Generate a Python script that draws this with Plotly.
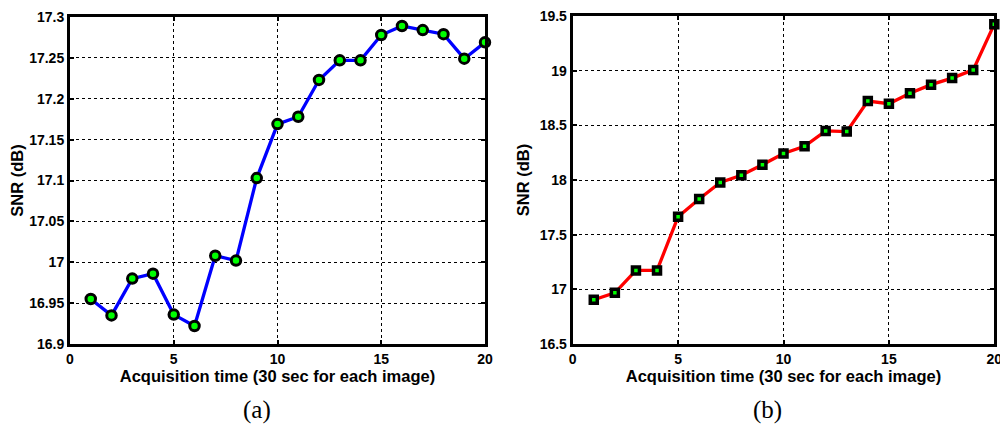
import plotly.graph_objects as go

# Data
time_a = list(range(1, 21))
snr_a = [16.955, 16.935, 16.980, 16.986, 16.936, 16.922, 17.008, 17.002, 17.103, 17.169,
         17.178, 17.223, 17.247, 17.247, 17.278, 17.289, 17.284, 17.279, 17.249, 17.269]
time_b = list(range(1, 21))
snr_b = [16.905, 16.968, 17.173, 17.173, 17.665, 17.827, 17.977, 18.043, 18.140, 18.242,
         18.308, 18.449, 18.443, 18.722, 18.698, 18.794, 18.872, 18.932, 19.007, 19.425]

x_ticks = [0, 5, 10, 15, 20]
y_ticks_a = [16.9, 16.95, 17.0, 17.05, 17.1, 17.15, 17.2, 17.25, 17.3]
y_ticks_a_text = ["16.9", "16.95", "17", "17.05", "17.1", "17.15", "17.2", "17.25", "17.3"]
y_ticks_b = [16.5, 17.0, 17.5, 18.0, 18.5, 19.0, 19.5]
y_ticks_b_text = ["16.5", "17", "17.5", "18", "18.5", "19", "19.5"]

x_title = "Acquisition time (30 sec for each image)"
y_title = "SNR (dB)"
captions = ["(a)", "(b)"]

# page body has an 8px margin; size the figure so it fits the 1008x428 window
OFF = 8
W, H = 1008 - OFF, 428 - OFF
FONT = "Liberation Sans"


def px_x(p):
    return (p - OFF) / W


def px_y(p):
    return 1 - (p - OFF) / H


fig = go.Figure()
fig.add_trace(go.Scatter(
    x=time_a, y=snr_a, mode="lines+markers", xaxis="x", yaxis="y",
    line=dict(color="#0000ff", width=3.3),
    marker=dict(symbol="circle", size=9.5, color="#00ff00", line=dict(color="black", width=3)),
    showlegend=False, cliponaxis=False))
fig.add_trace(go.Scatter(
    x=time_b, y=snr_b, mode="lines+markers", xaxis="x2", yaxis="y2",
    line=dict(color="#ff0000", width=3.3),
    marker=dict(symbol="square", size=7, color="#00ff00", line=dict(color="black", width=3.5)),
    showlegend=False, cliponaxis=False))

axis_common = dict(
    showline=True, linecolor="black", linewidth=3, mirror="ticks",
    ticks="inside", ticklen=4, tickwidth=1.5, tickcolor="black",
    showgrid=True, gridcolor="black", gridwidth=1, griddash="dot",
    zeroline=False, automargin=False, ticklabeloverflow="allow",
    tickfont=dict(family=FONT, size=14, color="black", weight="bold"),
)
title_font = dict(family=FONT, size=16.5, color="black", weight="bold")

fig.update_layout(
    width=W, height=H,
    margin=dict(l=0, r=0, t=0, b=0),
    paper_bgcolor="white", plot_bgcolor="white",
    xaxis=dict(domain=[px_x(70), px_x(485)], anchor="y", range=[0, 20],
               tickvals=x_ticks,
               title=dict(text=x_title, standoff=4, font=title_font),
               **axis_common),
    yaxis=dict(domain=[px_y(344), px_y(17)], anchor="x", range=[16.9, 17.3],
               tickvals=y_ticks_a, ticktext=y_ticks_a_text,
               title=dict(text=y_title, standoff=6, font=title_font),
               **axis_common),
    xaxis2=dict(domain=[px_x(572.7), px_x(994.3)], anchor="y2", range=[0, 20],
                tickvals=x_ticks,
                title=dict(text=x_title, standoff=4, font=title_font),
                **axis_common),
    yaxis2=dict(domain=[px_y(344), px_y(16)], anchor="x2", range=[16.5, 19.5],
                tickvals=y_ticks_b, ticktext=y_ticks_b_text,
                title=dict(text=y_title, standoff=6, font=title_font),
                **axis_common),
    annotations=[
        dict(text=captions[0], x=px_x(257), y=px_y(410), xref="paper", yref="paper",
             showarrow=False, xanchor="center", yanchor="middle",
             font=dict(family="Liberation Serif", size=25, color="black")),
        dict(text=captions[1], x=px_x(767), y=px_y(410), xref="paper", yref="paper",
             showarrow=False, xanchor="center", yanchor="middle",
             font=dict(family="Liberation Serif", size=25, color="black")),
    ],
)

fig.write_html("out.html")
